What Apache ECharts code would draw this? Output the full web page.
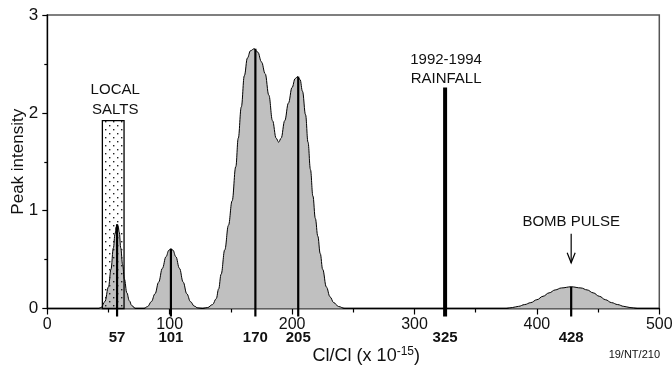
<!DOCTYPE html>
<html><head><meta charset="utf-8">
<script src="https://cdn.jsdelivr.net/npm/echarts@6/dist/echarts.min.js"></script>
<style>html,body{margin:0;padding:0;background:#fff}#c{width:672px;height:367px}</style>
</head><body><div id="c"></div>
<script>
// ---- data ----
const xTickValues = [0, 100, 200, 300, 400, 500];
const yTickValues = [0, 1, 2, 3];
const peakLabelValues = [57, 101, 170, 205, 325, 428];

// spectrum (x = Cl/Cl x1e-15, y = peak intensity)
const peak57 = [[38,0],[42,0],[44,0.01],[47,0.07],[50,0.22],[52,0.40],[54,0.62],[55.3,0.76],[56.3,0.835],[57,0.86],[57.8,0.845],[58.8,0.78],[60,0.62],[61.5,0.45],[63,0.30],[65,0.16],[67,0.08],[69,0.03],[72,0]];
const peak101 = [[79,0],[82,0.02],[85,0.07],[88,0.15],[91,0.27],[94,0.41],[97,0.53],[99.3,0.595],[101,0.61],[102.7,0.595],[105,0.53],[108,0.41],[111,0.27],[114,0.15],[117,0.07],[120,0.025],[123,0.005],[127,0]];
const peakMain = [[131,0.01],[135,0.04],[138,0.10],[140,0.20],[142,0.35],[145,0.60],[148,0.85],[151,1.10],[154,1.45],[156,1.74],[158.5,2.06],[161,2.38],[163.5,2.56],[166,2.635],[169,2.655],[172,2.62],[175,2.52],[178,2.40],[181,2.18],[184,1.92],[187,1.74],[189,1.70],[191,1.74],[194,1.92],[197,2.10],[200,2.26],[202.5,2.35],[204.5,2.37],[206.5,2.34],[208.5,2.22],[211,1.98],[213,1.70],[215,1.42],[217,1.15],[219,0.92],[221,0.74],[223,0.56],[225,0.40],[228,0.22],[231,0.12],[234,0.06],[238,0.02],[243,0]];
const peak428 = [[375,0],[380,0.01],[385,0.022],[390,0.04],[395,0.06],[400,0.09],[405,0.125],[410,0.16],[415,0.19],[420,0.21],[428,0.222],[436,0.21],[441,0.19],[446,0.16],[451,0.125],[456,0.09],[461,0.06],[466,0.04],[471,0.022],[476,0.01],[482,0]];
const baseline = [[0,0],[500,0]];

// marked peaks (stems) and their heights
const stemX = [57, 101, 170, 205, 428];
const stemTop = [0.86, 0.61, 2.655, 2.37, 0.222];
const rainfallX = 325, rainfallTop = 2.26;
const saltsRange = [45, 62.7], saltsTop = 1.92;
const bombX = 428, bombTop = 0.222;

// ---- chart ----
const FONT = '"Liberation Sans", Arial, sans-serif';
const NARROW = '"Liberation Sans Narrow", "Liberation Sans", Arial, sans-serif';
const spectrum = [baseline[0]].concat(peak57, peak101, peakMain, peak428, [baseline[1]]);

const pc = document.createElement('canvas');
pc.width = 8; pc.height = 8;
const pctx = pc.getContext('2d');
pctx.fillStyle = '#222';
pctx.fillRect(1, 1, 1.4, 1.4);
pctx.fillRect(5, 5, 1.4, 1.4);

const chart = echarts.init(document.getElementById('c'), null, {renderer: 'canvas'});
chart.setOption({
  animation: false,
  backgroundColor: '#fff',
  grid: {left: 47.3, right: 12.7, top: 15, bottom: 58.5, show: true, borderColor: '#555', borderWidth: 1.5,
    backgroundColor: 'transparent', containLabel: false, outerBoundsMode: 'none'},
  xAxis: [{
    type: 'value', min: 0, max: 500, interval: 100,
    axisLine: {show: true, onZero: false, lineStyle: {color: '#000', width: 1.3}},
    axisTick: {show: true, length: 6, lineStyle: {color: '#000', width: 1.2}},
    minorTick: {show: true, splitNumber: 2, length: 4, lineStyle: {color: '#000', width: 1.2}},
    splitLine: {show: false},
    axisLabel: {color: '#111', fontSize: 16, fontFamily: NARROW, margin: 8,
      customValues: xTickValues},
    name: 'Cl/Cl (x 10{sup|-15})', nameLocation: 'middle', nameGap: 37, nameMoveOverlap: false,
    nameTextStyle: {color: '#111', fontSize: 18, fontFamily: NARROW, padding: [0, 0, 0, 26],
      rich: {sup: {fontSize: 12, fontFamily: NARROW, color: '#111', padding: [0, 0, 9, 0]}}}
  }, {
    type: 'value', min: 0, max: 500, position: 'bottom',
    axisLine: {show: false}, axisTick: {show: false}, splitLine: {show: false},
    axisLabel: {color: '#111', fontSize: 15, fontWeight: 'bold', fontFamily: NARROW, margin: 22,
      customValues: peakLabelValues}
  }],
  yAxis: {
    type: 'value', min: 0, max: 3, interval: 1,
    axisLine: {show: true, lineStyle: {color: '#000', width: 1.3}},
    axisTick: {show: true, length: 5, lineStyle: {color: '#000', width: 1.2}},
    minorTick: {show: true, splitNumber: 2, length: 3, lineStyle: {color: '#000', width: 1.2}},
    splitLine: {show: false},
    axisLabel: {color: '#111', fontSize: 17, fontFamily: NARROW, margin: 9, customValues: yTickValues},
    name: 'Peak intensity', nameLocation: 'middle', nameGap: 20, nameRotate: 90, nameMoveOverlap: false,
    nameTextStyle: {color: '#111', fontSize: 17, fontFamily: FONT}
  },
  graphic: [{type: 'text', right: 12, top: 349,
    style: {text: '19/NT/210', font: '11px ' + FONT, fill: '#111'}}],
  series: [{
    type: 'line', data: spectrum, smooth: 0.4, smoothMonotone: 'x', symbol: 'none',
    lineStyle: {color: '#000', width: 1}, areaStyle: {color: '#c0c0c0', opacity: 1}, z: 2
  }, {
    type: 'custom', z: 3, clip: false,
    data: [[saltsRange[0], saltsRange[1], saltsTop]],
    encode: {x: [0, 1], y: 2},
    renderItem: function (params, api) {
      const a = api.coord([api.value(0), api.value(2)]);
      const b = api.coord([api.value(1), 0]);
      return {type: 'group', children: [
        {type: 'rect', shape: {x: a[0], y: a[1], width: b[0] - a[0], height: b[1] - a[1]},
          style: {fill: {image: pc, repeat: 'repeat'}, stroke: '#000', lineWidth: 1.3}},
        {type: 'text', style: {text: 'LOCAL\nSALTS', x: (a[0] + b[0]) / 2 + 2, y: a[1] - 1,
          align: 'center', verticalAlign: 'bottom', font: '15px ' + FONT, lineHeight: 20, fill: '#111'}}
      ]};
    }
  }, {
    type: 'custom', z: 4, clip: false,
    data: stemX.map((x, i) => [x, stemTop[i]]),
    encode: {x: 0, y: 1},
    renderItem: function (params, api) {
      const p0 = api.coord([api.value(0), 0]);
      const p1 = api.coord([api.value(0), api.value(1)]);
      return {type: 'line', shape: {x1: p0[0], y1: p0[1] + 8, x2: p1[0], y2: p1[1]},
        style: {stroke: '#000', lineWidth: 2.2}};
    }
  }, {
    type: 'custom', z: 4, clip: false,
    data: [[rainfallX, rainfallTop]],
    encode: {x: 0, y: 1},
    renderItem: function (params, api) {
      const p0 = api.coord([api.value(0), 0]);
      const p1 = api.coord([api.value(0), api.value(1)]);
      return {type: 'group', children: [
        {type: 'line', shape: {x1: p0[0], y1: p0[1] + 8, x2: p1[0], y2: p1[1]},
          style: {stroke: '#000', lineWidth: 4}},
        {type: 'text', style: {text: '1992-1994\nRAINFALL', x: p1[0] + 1, y: p1[1] + 1,
          align: 'center', verticalAlign: 'bottom', font: '15px ' + FONT, lineHeight: 19, fill: '#111'}}
      ]};
    }
  }, {
    type: 'custom', z: 4, clip: false,
    data: [[bombX, bombTop]],
    encode: {x: 0, y: 1},
    renderItem: function (params, api) {
      const p = api.coord([api.value(0), api.value(1)]);
      const cx = p[0], tip = p[1] - 24;
      return {type: 'group', children: [
        {type: 'line', shape: {x1: cx, y1: p[1] - 53, x2: cx, y2: tip}, style: {stroke: '#000', lineWidth: 1.2}},
        {type: 'polyline', shape: {points: [[cx - 4, tip - 10], [cx, tip], [cx + 4, tip - 10]]},
          style: {stroke: '#000', lineWidth: 1.2, fill: null}},
        {type: 'text', style: {text: 'BOMB PULSE', x: cx, y: p[1] - 57, align: 'center',
          verticalAlign: 'bottom', font: '15px ' + FONT, fill: '#111'}}
      ]};
    }
  }]
});
</script></body></html>
